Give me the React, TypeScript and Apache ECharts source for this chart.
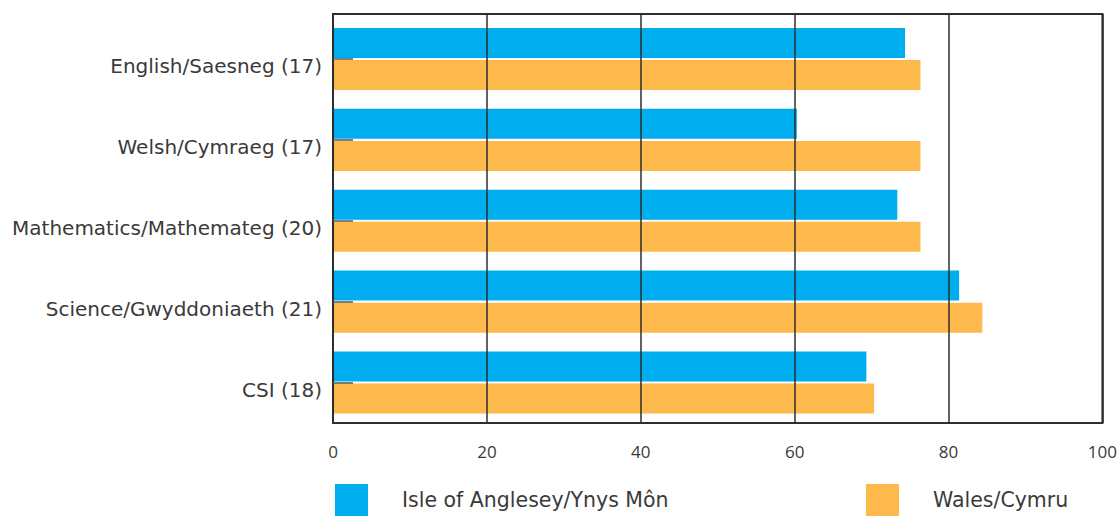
import React, { useEffect, useRef } from "react";
import * as echarts from "echarts";

const categories = [
  "English/Saesneg (17)",
  "Welsh/Cymraeg (17)",
  "Mathematics/Mathemateg (20)",
  "Science/Gwyddoniaeth (21)",
  "CSI (18)",
];
const seriesNames = ["Isle of Anglesey/Ynys Môn", "Wales/Cymru"];
const angleseyValues = [74, 60, 73, 81, 69];
const walesValues = [76, 76, 76, 84, 70];
const xTicks = [0, 20, 40, 60, 80, 100];

const FONT = "'Open Sans', 'DejaVu Sans', sans-serif";
const WIDE = "'DejaVu Sans', sans-serif";
const TEXT = "#3a3a3a";
const BLUE = "#00adef";
const ORANGE = "#fdb94b";

export default function App() {
  const ref = useRef<HTMLDivElement>(null);
  useEffect(() => {
    if (!ref.current) return;
    const chart = echarts.init(ref.current, null, { renderer: "svg" });
    const legendText = {
      fontFamily: WIDE,
      fontSize: 20.5,
      color: TEXT,
      padding: [0, 0, 0, 29],
    };
    chart.setOption({
      animation: false,
      backgroundColor: "#fff",
      grid: [
        {
          left: 333,
          right: 14,
          top: 14,
          bottom: 94,
          show: true,
          borderColor: "#2e2e2e",
          borderWidth: 2,
          backgroundColor: "transparent",
          z: 3,
        },
        { left: 333, right: 14, top: 18.5, bottom: 94 },
      ],
      legend: [
        {
          data: [seriesNames[0]],
          left: 335,
          top: 484,
          padding: 0,
          itemWidth: 33,
          itemHeight: 32,
          icon: "rect",
          textStyle: legendText,
          selectedMode: false,
        },
        {
          data: [seriesNames[1]],
          left: 866,
          top: 484,
          padding: 0,
          itemWidth: 33,
          itemHeight: 32,
          icon: "rect",
          textStyle: legendText,
          selectedMode: false,
        },
      ],
      xAxis: [
        {
          gridIndex: 0,
          type: "value",
          min: xTicks[0],
          max: xTicks[xTicks.length - 1],
          interval: 20,
          z: 3,
          axisLine: { show: false },
          axisTick: { show: false },
          splitLine: { show: true, lineStyle: { color: "#2e2e2e", width: 1.5 } },
          axisLabel: {
            fontFamily: FONT,
            fontSize: 17,
            color: TEXT,
            margin: 20,
            showMinLabel: true,
            showMaxLabel: true,
          },
        },
        {
          gridIndex: 1,
          type: "value",
          min: xTicks[0],
          max: xTicks[xTicks.length - 1],
          show: false,
        },
      ],
      yAxis: [
        { gridIndex: 0, type: "value", show: false },
        {
          gridIndex: 1,
          type: "category",
          data: categories,
          inverse: true,
          z: 3,
          axisLine: { show: false },
          axisTick: {
            show: true,
            inside: true,
            length: 20,
            alignWithLabel: true,
            lineStyle: { color: "#555", width: 1.5 },
          },
          axisLabel: {
            fontFamily: WIDE,
            fontSize: 20,
            color: TEXT,
            margin: 11,
            verticalAlign: "top",
            lineHeight: 15,
          },
        },
      ],
      series: [
        {
          name: seriesNames[0],
          type: "bar",
          xAxisIndex: 1,
          yAxisIndex: 1,
          data: angleseyValues,
          barWidth: 30,
          barGap: "7%",
          itemStyle: { color: BLUE },
        },
        {
          name: seriesNames[1],
          type: "bar",
          xAxisIndex: 1,
          yAxisIndex: 1,
          data: walesValues,
          barWidth: 30,
          barGap: "7%",
          itemStyle: { color: ORANGE },
        },
      ],
    });
    return () => chart.dispose();
  }, []);
  return (
    <div
      ref={ref}
      style={{ position: "fixed", left: 0, top: 0, width: 1120, height: 517 }}
    />
  );
}
